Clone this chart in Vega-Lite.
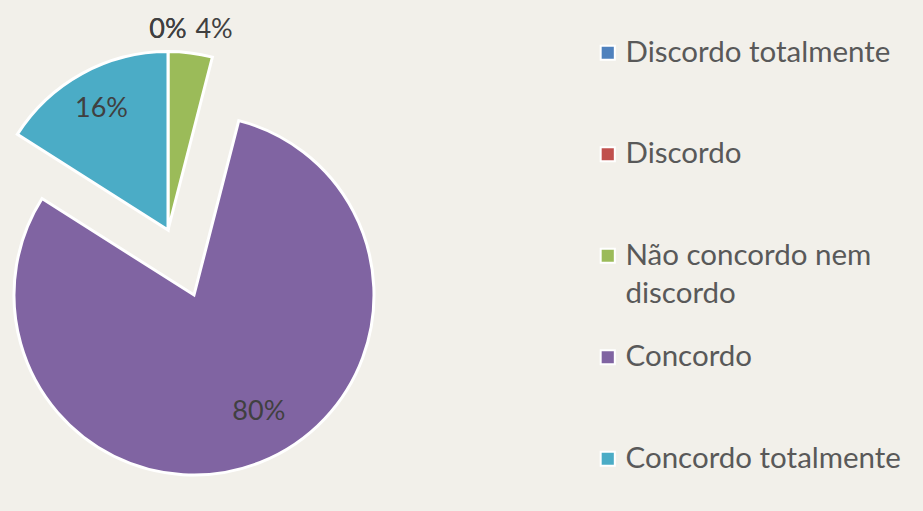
{
  "$schema": "https://vega.github.io/schema/vega-lite/v6.json",
  "width": 336,
  "height": 460,
  "autosize": {"type": "none"},
  "padding": {"left": 0, "top": 0, "right": 587, "bottom": 51},
  "background": "#f2f0ea",
  "config": {"view": {"stroke": null}, "font": "Lato"},
  "data": {"values": [
    {"categoria": "Discordo totalmente", "ordem": 1, "pct": 0},
    {"categoria": "Discordo", "ordem": 2, "pct": 0},
    {"categoria": "Não concordo nem discordo", "ordem": 3, "pct": 0.04},
    {"categoria": "Concordo", "ordem": 4, "pct": 0.80},
    {"categoria": "Concordo totalmente", "ordem": 5, "pct": 0.16}
  ]},
  "transform": [
    {"stack": "pct", "groupby": [], "sort": [{"field": "ordem", "order": "ascending"}], "as": ["s0", "s1"]},
    {"calculate": "(datum.s0 + datum.s1) / 2", "as": "meio"}
  ],
  "layer": [
    {
      "transform": [{"filter": "datum.categoria != 'Concordo'"}],
      "mark": {"type": "arc", "outerRadius": 178.5, "stroke": "white", "strokeWidth": 3},
      "encoding": {
        "theta": {"field": "s0", "type": "quantitative", "scale": {"domain": [0, 1]}},
        "theta2": {"field": "s1"},
        "color": {
          "field": "categoria", "type": "nominal",
          "scale": {
            "domain": ["Discordo totalmente", "Discordo", "Não concordo nem discordo", "Concordo", "Concordo totalmente"],
            "range": ["#4f81bd", "#c0504d", "#9bbb59", "#8064a2", "#4bacc6"]
          },
          "legend": {
            "title": null,
            "orient": "none",
            "legendX": 593,
            "legendY": 38,
            "padding": 0,
            "symbolType": "square",
            "symbolSize": 200,
            "symbolStrokeColor": "white",
            "symbolStrokeWidth": 2,
            "symbolOpacity": 1,
            "labelFont": "Lato",
            "labelFontSize": 29.5,
            "labelColor": "#595959",
            "labelOffset": 3,
            "labelLimit": 400,
            "gridAlign": "all",
            "rowPadding": 32.5,
            "labelExpr": "datum.label == 'Não concordo nem discordo' ? ['Não concordo nem', 'discordo'] : datum.label",
            "encode": {"labels": {"update": {"lineHeight": {"value": 38}}}}
          }
        }
      }
    },
    {
      "transform": [{"filter": "datum.categoria == 'Concordo'"}],
      "mark": {"type": "arc", "outerRadius": 180, "stroke": "white", "strokeWidth": 3, "xOffset": 26, "yOffset": 65},
      "encoding": {
        "theta": {"field": "s0", "type": "quantitative", "scale": {"domain": [0, 1]}},
        "theta2": {"field": "s1"},
        "color": {"field": "categoria", "type": "nominal"}
      }
    },
    {
      "transform": [{"filter": "datum.pct == 0"}],
      "mark": {"type": "text", "radius": 200, "fontSize": 27, "color": "#404040", "baseline": "middle", "align": "center"},
      "encoding": {
        "theta": {"field": "meio", "type": "quantitative", "scale": {"domain": [0, 1]}},
        "text": {"field": "pct", "type": "quantitative", "format": ".0%"}
      }
    },
    {
      "transform": [{"filter": "datum.pct > 0 && datum.pct < 0.1"}],
      "mark": {"type": "text", "radius": 200, "fontSize": 27, "color": "#404040", "baseline": "middle", "align": "center", "dx": 21, "dy": -2},
      "encoding": {
        "theta": {"field": "meio", "type": "quantitative", "scale": {"domain": [0, 1]}},
        "text": {"field": "pct", "type": "quantitative", "format": ".0%"}
      }
    },
    {
      "transform": [{"filter": "datum.categoria == 'Concordo totalmente'"}],
      "mark": {"type": "text", "radius": 138, "fontSize": 27, "color": "#404040", "baseline": "middle", "align": "center"},
      "encoding": {
        "theta": {"field": "meio", "type": "quantitative", "scale": {"domain": [0, 1]}},
        "text": {"field": "pct", "type": "quantitative", "format": ".0%"}
      }
    },
    {
      "transform": [{"filter": "datum.categoria == 'Concordo'"}],
      "mark": {"type": "text", "radius": 138, "fontSize": 27, "color": "#404040", "baseline": "middle", "align": "center", "xOffset": 40, "yOffset": 54},
      "encoding": {
        "theta": {"field": "meio", "type": "quantitative", "scale": {"domain": [0, 1]}},
        "text": {"field": "pct", "type": "quantitative", "format": ".0%"}
      }
    }
  ]
}
